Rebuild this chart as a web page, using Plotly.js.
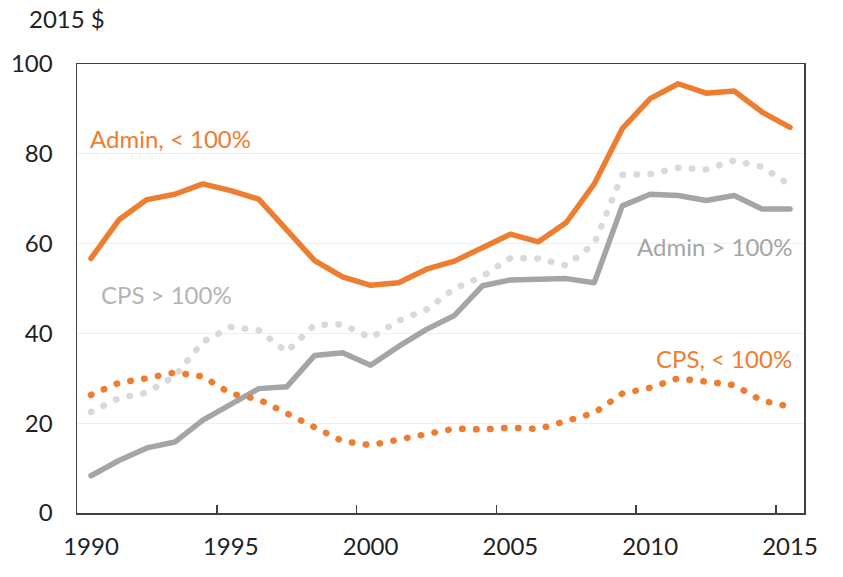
<!DOCTYPE html>
<html>
<head>
<meta charset="utf-8">
<script src="https://cdn.plot.ly/plotly-3.0.1.min.js"></script>
<style>
html,body{margin:0;padding:0;background:#fff;}
#chart{width:843px;height:577px;}
.scatterlayer .js-line{stroke-linecap:round;stroke-linejoin:round;}
</style>
</head>
<body>
<div id="chart"></div>
<script>
const years = ["1990","1991","1992","1993","1994","1995","1996","1997","1998","1999","2000","2001","2002","2003","2004","2005","2006","2007","2008","2009","2010","2011","2012","2013","2014","2015"];
const tickLabels = ["1990","1995","2000","2005","2010","2015"];
const yTicks = [0,20,40,60,80,100];

const adminBelow = [56.7,65.3,69.8,71.0,73.3,71.8,69.9,62.9,56.2,52.6,50.7,51.3,54.3,56.1,59.0,62.1,60.4,64.7,73.3,85.6,92.3,95.6,93.5,94.0,89.3,85.9];
const adminAbove = [8.3,11.7,14.5,15.8,20.7,24.2,27.7,28.1,35.1,35.7,32.9,37.1,40.9,44.0,50.6,51.9,52.2,52.2,51.3,68.4,71.0,70.7,69.6,70.7,67.7,67.7];
const cpsBelow = [26.3,29.0,30.0,31.3,30.4,26.6,25.3,22.2,19.0,16.0,15.1,16.3,17.3,18.8,18.6,19.0,18.7,20.6,22.3,26.6,27.9,30.0,29.4,28.5,25.0,23.7];
const cpsAbove = [22.5,25.6,26.8,30.5,38.1,41.4,40.7,35.9,41.9,42.0,39.0,42.8,45.3,50.0,52.7,56.8,56.7,55.1,60.0,75.3,75.5,76.9,76.5,78.5,77.1,73.0];

const ORANGE = "#ED7D31";
const GRAY = "#A5A5A5";
const LIGHT = "#D9D9D9";
const FONT = "Lato, 'Open Sans', sans-serif";
const FS = 24;

const traces = [
  {x: years, y: adminBelow, type: "scatter", mode: "lines", line: {color: ORANGE, width: 5.5}, hoverinfo: "skip"},
  {x: years, y: adminAbove, type: "scatter", mode: "lines", line: {color: GRAY, width: 5.5}, hoverinfo: "skip"},
  {x: years, y: cpsAbove, type: "scatter", mode: "lines", line: {color: LIGHT, width: 6.5, dash: "0.5px,13.5px"}, hoverinfo: "skip"},
  {x: years, y: cpsBelow, type: "scatter", mode: "lines", line: {color: ORANGE, width: 6.5, dash: "0.5px,13.5px"}, hoverinfo: "skip"}
];

const L = 77, R = 804, T = 64, B = 513.3;
const px = v => (v - L) / (R - L);
const py = v => (B - v) / (B - T);

const layout = {
  width: 843, height: 577,
  margin: {l: L, r: 843 - R, t: T, b: 577 - B, pad: 0},
  paper_bgcolor: "#fff", plot_bgcolor: "#fff",
  showlegend: false,
  font: {family: FONT, size: FS, color: "#222"},
  xaxis: {
    type: "category",
    categoryorder: "array", categoryarray: years,
    range: [-0.5, 25.5],
    tickmode: "array", tickvals: tickLabels, ticktext: tickLabels,
    tickangle: 0,
    tickson: "boundaries",
    ticks: "inside", ticklen: 8, tickwidth: 1.5, tickcolor: "#404040",
    showgrid: false, zeroline: false,
    showline: true, linecolor: "#404040", linewidth: 1.5, mirror: true,
    ticklabelstandoff: 12,
    tickfont: {family: FONT, size: FS, color: "#222"}
  },
  yaxis: {
    range: [0, 100],
    tickmode: "array", tickvals: yTicks,
    ticks: "", showgrid: true, gridcolor: "#EEEEEE", gridwidth: 1,
    zeroline: false,
    showline: true, linecolor: "#404040", linewidth: 1.5, mirror: true,
    ticklabelstandoff: 18,
    tickfont: {family: FONT, size: FS, color: "#222"}
  },
  annotations: [
    {text: "2015 $", xref: "paper", yref: "paper", x: px(27), y: py(18.5), xanchor: "left", yanchor: "middle", showarrow: false, font: {family: FONT, size: FS, color: "#222"}},
    {text: "Admin, < 100%", xref: "paper", yref: "paper", x: px(88), y: py(139), xanchor: "left", yanchor: "middle", showarrow: false, font: {family: FONT, size: FS, color: ORANGE}},
    {text: "CPS > 100%", xref: "paper", yref: "paper", x: px(99), y: py(295), xanchor: "left", yanchor: "middle", showarrow: false, font: {family: FONT, size: FS, color: "#B4B4B4"}},
    {text: "Admin > 100%", xref: "paper", yref: "paper", x: px(795), y: py(247), xanchor: "right", yanchor: "middle", showarrow: false, font: {family: FONT, size: FS, color: GRAY}},
    {text: "CPS, < 100%", xref: "paper", yref: "paper", x: px(794), y: py(359), xanchor: "right", yanchor: "middle", showarrow: false, font: {family: FONT, size: FS, color: ORANGE}}
  ]
};

Plotly.newPlot("chart", traces, layout, {staticPlot: true, displayModeBar: false});
</script>
</body>
</html>
